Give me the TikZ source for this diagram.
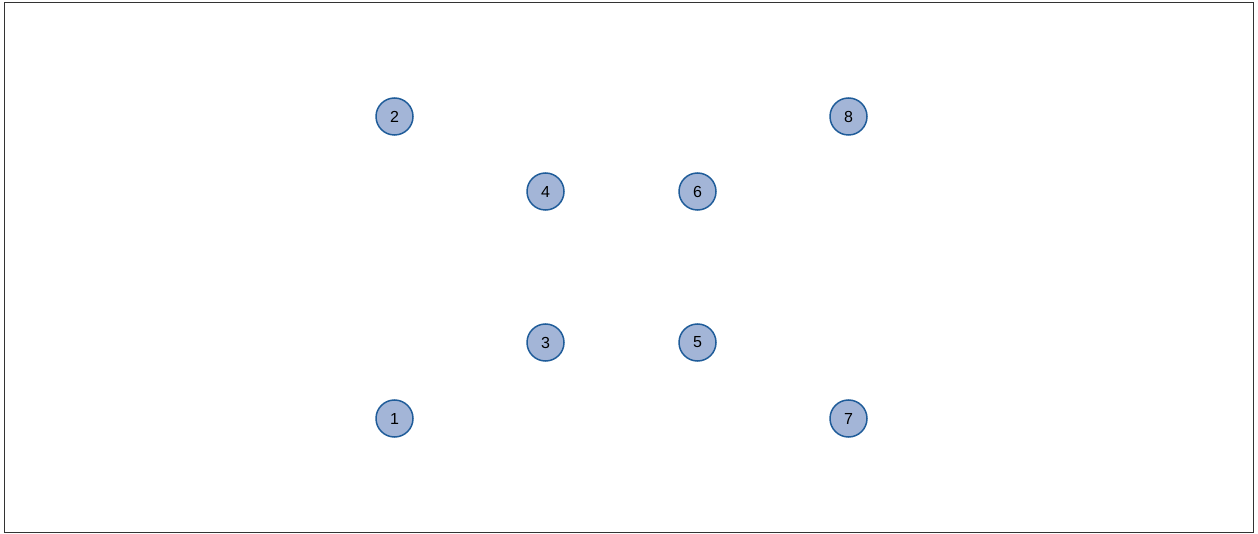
\documentclass[tikz,border=0pt]{standalone}
\usepackage{fontspec}
\setmainfont{Liberation Sans}
\usepackage{xcolor}
\definecolor{vfill}{HTML}{A3B5D7}
\definecolor{vline}{HTML}{1F5C99}

\begin{document}
\begin{tikzpicture}[x=1pt, y=-1pt]
\tikzstyle{vertex} = [circle, draw=vline, fill=vfill, line width=1.5pt,
    minimum size=37pt, inner sep=0pt, font=\fontsize{16}{18}\selectfont]
\tikzstyle{frame} = [draw=black!80, line width=1pt]

\useasboundingbox (0,0) rectangle (1258,534);
\path[frame] (4.5,2.5) rectangle (1253.5,532.5);

\node (n1) [vertex] at (394.5,418.5) {1};
\node (n2) [vertex] at (394.5,116.5) {2};
\node (n3) [vertex] at (545.5,342.5) {3};
\node (n4) [vertex] at (545.5,191.5) {4};
\node (n5) [vertex] at (697.5,342.5) {5};
\node (n6) [vertex] at (697.5,191.5) {6};
\node (n7) [vertex] at (848.5,418.5) {7};
\node (n8) [vertex] at (848.5,116.5) {8};
\end{tikzpicture}
\end{document}
